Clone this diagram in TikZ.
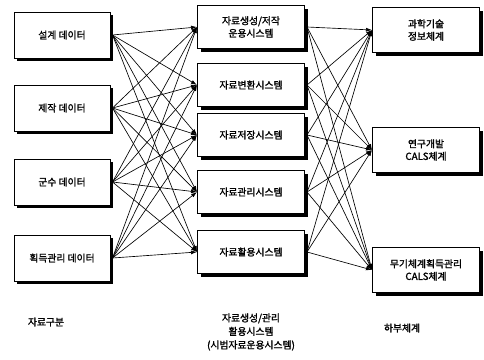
\documentclass[tikz,border=0pt]{standalone}
\usepackage{fontspec}
\newfontfamily\kr{Noto Sans CJK KR}[FakeBold=1.5]
\usetikzlibrary{arrows.meta,shadows}
\begin{document}
\begin{tikzpicture}[x=1pt,y=-1pt,
  box/.style={draw=black, line width=1pt, fill=white, align=center,
    font=\kr\fontsize{9.8}{12.5}\selectfont, inner sep=0pt,
    drop shadow={shadow xshift=3pt, shadow yshift=-3pt, fill=black, opacity=1}},
  lbox/.style={box, minimum width=96pt, minimum height=46pt},
  mbox/.style={box, minimum width=107pt, minimum height=43pt},
  rbox/.style={box, minimum width=107pt, minimum height=45pt},
  link/.style={line width=0.65pt, -{Latex[length=6pt,width=4pt]}},
  caption/.style={font=\kr\fontsize{9.8}{13.5}\selectfont, align=center}]
\useasboundingbox (0,0) rectangle (484,359);

% data categories
\node[lbox] (L1) at (62,35)  {설계 데이터};
\node[lbox] (L2) at (62,108) {제작 데이터};
\node[lbox] (L3) at (62,182) {군수 데이터};
\node[lbox] (L4) at (62,258) {획득관리 데이터};

% data management systems
\node[mbox] (M1) at (251,27)  {자료생성/저작\\운용시스템};
\node[mbox] (M2) at (251,85)  {자료변환시스템};
\node[mbox] (M3) at (251,135) {자료저장시스템};
\node[mbox] (M4) at (251,192) {자료관리시스템};
\node[mbox] (M5) at (251,252) {자료활용시스템};

% subsystems
\node[rbox] (R1) at (426,30)  {과학기술\\정보체계};
\node[rbox] (R2) at (426,150) {연구개발\\CALS체계};
\node[rbox] (R3) at (426,270) {무기체계획득관리\\CALS체계};

% column captions
\node[caption] (C1) at (46,322)  {자료구분};
\node[caption] (C2) at (251,332) {자료생성/관리\\활용시스템\\(시범자료운용시스템)};
\node[caption] (C3) at (402,328) {하부체계};

% every data category feeds every system
\foreach \l in {1,...,4}
  \foreach \m in {1,...,5}
    \draw[link] ([xshift=2pt]L\l.east) -- (M\m.west);

% every system feeds every subsystem
\foreach \m in {1,...,5}
  \foreach \r in {1,...,3}
    \draw[link] ([xshift=2pt]M\m.east) -- (R\r.west);
\end{tikzpicture}
\end{document}
